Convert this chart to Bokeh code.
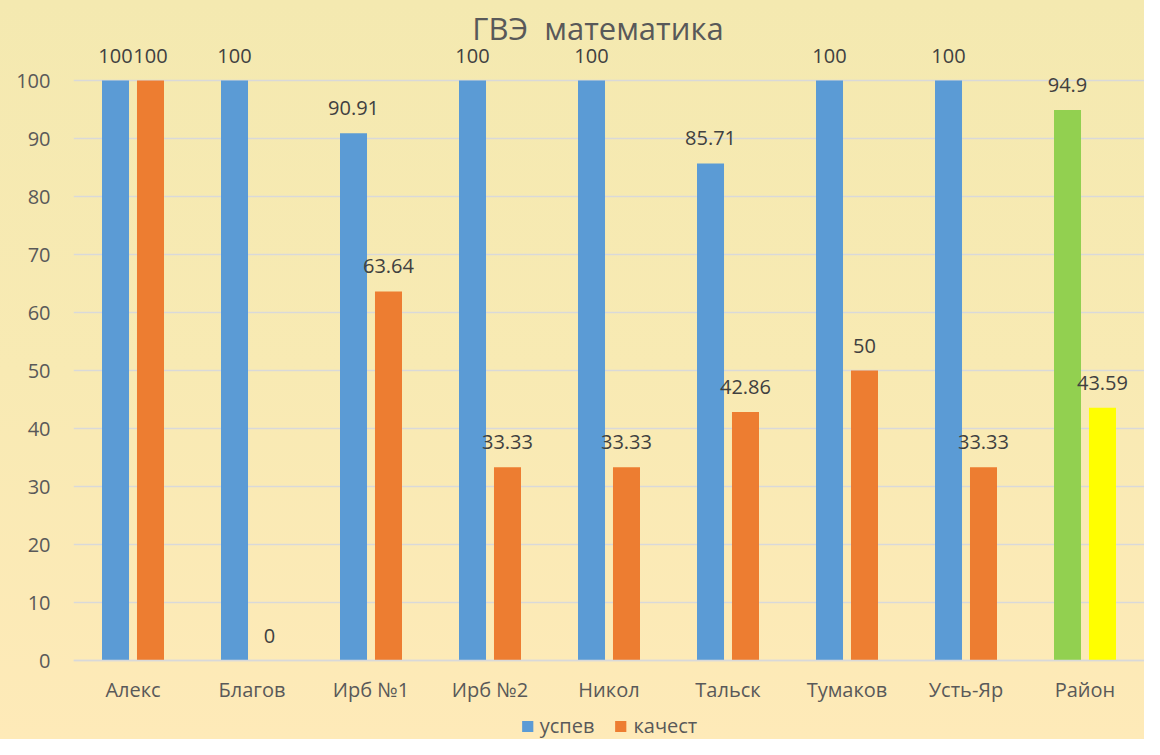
from bokeh.plotting import figure
from bokeh.models import (FactorRange, Range1d, FixedTicker, ColumnDataSource,
                          Legend, LegendItem)
from bokeh.transform import dodge
from bokeh.core.properties import value
from bokeh.embed import file_html
from bokeh.resources import INLINE

categories = ["Алекс", "Благов", "Ирб №1", "Ирб №2", "Никол", "Тальск", "Тумаков", "Усть-Яр", "Район"]
uspev = [100, 100, 90.91, 100, 100, 85.71, 100, 100, 94.9]
kachest = [100, 0, 63.64, 33.33, 33.33, 42.86, 50, 33.33, 43.59]
series_names = ["успев", "качест"]
title_text = "ГВЭ \u00a0математика"
y_ticks = [0, 10, 20, 30, 40, 50, 60, 70, 80, 90, 100]

FONT = "Open Sans"
TXT = "#595959"
BLUE, ORANGE, GREEN, YELLOW = "#5B9BD5", "#ED7D31", "#92D050", "#FFFF00"

W_FIG, H_FIG = 1144, 739
ZERO_PX, PX_PER_UNIT = 660, 5.8

p = figure(x_range=FactorRange(*categories, range_padding=0),
           y_range=Range1d(-(H_FIG - ZERO_PX) / PX_PER_UNIT, ZERO_PX / PX_PER_UNIT),
           width=W_FIG, height=H_FIG,
           min_border_left=73, min_border_right=0, min_border_top=0, min_border_bottom=0,
           output_backend="svg", toolbar_location=None,
           background_fill_alpha=0, border_fill_alpha=0, outline_line_color=None,
           styles={"background": "linear-gradient(to bottom, #F4E9B0, #F8EAB3 50%, #FEEAB8)"})

main = categories[:-1]
src_u = ColumnDataSource(dict(x=main, y=uspev[:-1], lab=[f"{v:g}" for v in uspev[:-1]]))
src_k = ColumnDataSource(dict(x=main, y=kachest[:-1], lab=[f"{v:g}" for v in kachest[:-1]]))
src_ut = ColumnDataSource(dict(x=categories[-1:], y=uspev[-1:], lab=[f"{uspev[-1]:g}"]))
src_kt = ColumnDataSource(dict(x=categories[-1:], y=kachest[-1:], lab=[f"{kachest[-1]:g}"]))

OFF, W = 0.147, 0.227
r_u = p.vbar(x=dodge("x", -OFF, range=p.x_range), top="y", width=W, source=src_u,
             fill_color=BLUE, line_color=None)
r_k = p.vbar(x=dodge("x", OFF, range=p.x_range), top="y", width=W, source=src_k,
             fill_color=ORANGE, line_color=None)
p.vbar(x=dodge("x", -OFF, range=p.x_range), top="y", width=W, source=src_ut,
       fill_color=GREEN, line_color=None)
p.vbar(x=dodge("x", OFF, range=p.x_range), top="y", width=W, source=src_kt,
       fill_color=YELLOW, line_color=None)

for src, off in [(src_u, -OFF), (src_k, OFF), (src_ut, -OFF), (src_kt, OFF)]:
    p.text(x=dodge("x", off, range=p.x_range), y="y", text="lab", source=src,
           text_align="center", text_baseline="bottom", y_offset=-18,
           text_font=value(FONT), text_font_size="20px", text_color="#404040")

p.text(x=["Никол"], y=[(ZERO_PX - 27) / PX_PER_UNIT], text=[title_text], x_offset=-11,
       text_align="center", text_baseline="middle",
       text_font=value(FONT), text_font_size="31px", text_color=TXT)

p.yaxis.ticker = FixedTicker(ticks=y_ticks)
p.ygrid.ticker = FixedTicker(ticks=y_ticks)
p.ygrid.grid_line_color = "#D9D9D9"
p.ygrid.grid_line_width = 1.5
p.xgrid.grid_line_color = None

p.yaxis.axis_line_color = None
p.yaxis.major_tick_line_color = None
p.yaxis.minor_tick_line_color = None
p.yaxis.major_tick_out = 0
p.yaxis.major_tick_in = 0
p.yaxis.major_label_standoff = 23
p.yaxis.major_label_text_font = FONT
p.yaxis.major_label_text_font_size = "20px"
p.yaxis.major_label_text_color = TXT

p.xaxis.fixed_location = 0
p.xaxis.axis_line_color = "#D9D9D9"
p.xaxis.axis_line_width = 1.5
p.xaxis.major_tick_line_color = None
p.xaxis.minor_tick_line_color = None
p.xaxis.major_tick_out = 0
p.xaxis.major_tick_in = 0
p.xaxis.major_label_standoff = 15
p.xaxis.major_label_text_font = FONT
p.xaxis.major_label_text_font_size = "20px"
p.xaxis.major_label_text_color = TXT

legend = Legend(items=[LegendItem(label=series_names[0], renderers=[r_u]),
                       LegendItem(label=series_names[1], renderers=[r_k])],
                orientation="horizontal", location="bottom_center",
                margin=0, padding=0, spacing=19, label_standoff=6,
                glyph_width=14, glyph_height=14,
                label_text_font=FONT, label_text_font_size="20px", label_text_color=TXT,
                background_fill_alpha=0, border_line_color=None)
p.add_layout(legend)

open("out.html", "w").write(file_html(p, INLINE))
